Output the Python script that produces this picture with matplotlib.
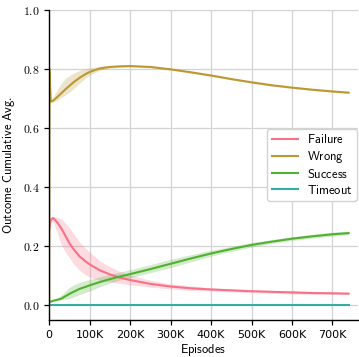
import numpy as np
import matplotlib
matplotlib.use("Agg")
import matplotlib.pyplot as plt
from matplotlib.ticker import FuncFormatter

plt.rcParams["mathtext.fontset"] = "cm"

# ── data (episodes in thousands) ─────────────────────────────────────────────
episodes = [0, 0.5, 4, 10, 20, 30, 40, 50, 60, 75, 90, 100, 125, 150, 175, 200,
            250, 300, 350, 400, 450, 500, 550, 600, 650, 700, 740]

failure = [0.25, 0.26, 0.29, 0.295, 0.28, 0.26, 0.235, 0.21, 0.19, 0.165, 0.148,
           0.138, 0.118, 0.104, 0.093, 0.085, 0.072, 0.063, 0.057, 0.053, 0.05,
           0.047, 0.045, 0.043, 0.041, 0.04, 0.039]
failure_lo = [0.25, 0.26, 0.285, 0.28, 0.245, 0.205, 0.18, 0.16, 0.14, 0.118, 0.102,
              0.095, 0.084, 0.079, 0.073, 0.069, 0.061, 0.055, 0.05, 0.047, 0.045,
              0.042, 0.04, 0.038, 0.037, 0.036, 0.035]
failure_hi = [0.25, 0.26, 0.295, 0.3, 0.297, 0.292, 0.278, 0.262, 0.243, 0.213, 0.192,
              0.18, 0.15, 0.13, 0.114, 0.102, 0.084, 0.072, 0.065, 0.059, 0.055,
              0.052, 0.05, 0.048, 0.046, 0.044, 0.043]

wrong = [0.0, 0.8, 0.69, 0.693, 0.705, 0.718, 0.731, 0.743, 0.755, 0.77, 0.783,
         0.79, 0.802, 0.807, 0.809, 0.81, 0.807, 0.799, 0.789, 0.778, 0.766,
         0.755, 0.745, 0.737, 0.73, 0.724, 0.72]
wrong_lo = [0.0, 0.8, 0.685, 0.688, 0.695, 0.703, 0.712, 0.722, 0.733, 0.752, 0.77,
            0.779, 0.796, 0.803, 0.806, 0.807, 0.804, 0.796, 0.786, 0.775, 0.763,
            0.752, 0.742, 0.734, 0.727, 0.721, 0.717]
wrong_hi = [0.0, 0.8, 0.695, 0.705, 0.73, 0.752, 0.768, 0.778, 0.786, 0.795, 0.801,
            0.804, 0.809, 0.812, 0.813, 0.813, 0.81, 0.802, 0.792, 0.781, 0.769,
            0.758, 0.748, 0.74, 0.733, 0.727, 0.723]

success = [0.01, 0.01, 0.012, 0.015, 0.018, 0.022, 0.03, 0.038, 0.045, 0.055, 0.062,
           0.067, 0.078, 0.088, 0.097, 0.105, 0.122, 0.14, 0.158, 0.175, 0.19,
           0.204, 0.215, 0.225, 0.233, 0.24, 0.244]
success_lo = [0.01, 0.01, 0.011, 0.013, 0.016, 0.018, 0.02, 0.022, 0.027, 0.036, 0.043,
              0.048, 0.062, 0.075, 0.085, 0.093, 0.11, 0.127, 0.147, 0.166, 0.182,
              0.197, 0.209, 0.219, 0.227, 0.234, 0.238]
success_hi = [0.01, 0.01, 0.013, 0.017, 0.024, 0.034, 0.047, 0.06, 0.068, 0.077, 0.083,
              0.087, 0.096, 0.104, 0.112, 0.12, 0.137, 0.155, 0.171, 0.186, 0.199,
              0.212, 0.222, 0.232, 0.24, 0.247, 0.251]

timeout = [0.0] * len(episodes)

series = [
    ("Failure", failure, failure_lo, failure_hi, "#f77189"),
    ("Wrong", wrong, wrong_lo, wrong_hi, "#bb9832"),
    ("Success", success, success_lo, success_hi, "#50b131"),
    ("Timeout", timeout, timeout, timeout, "#36ada4"),
]

# ── figure ───────────────────────────────────────────────────────────────────
fig = plt.figure(figsize=(3.59, 3.57), dpi=100)
ax = fig.add_axes([0.137, 0.104, 0.86, 0.868])

x = np.array(episodes) * 1000
for name, mean, lo, hi, col in series:
    ax.fill_between(x, lo, hi, color=col, alpha=0.25, lw=0)
    ax.plot(x, mean, color=col, lw=1.5, label=r"$\mathsf{%s}$" % name)

ax.set_xlim(0, 763000)
ax.set_ylim(-0.05, 1.0)
ax.set_xticks([0, 100000, 200000, 300000, 400000, 500000, 600000, 700000])
ax.xaxis.set_major_formatter(FuncFormatter(
    lambda v, p: "0" if v == 0 else f"{int(v / 1000)}K"))
ax.set_yticks([0.0, 0.2, 0.4, 0.6, 0.8, 1.0])
ax.yaxis.set_major_formatter(FuncFormatter(lambda v, p: f"${v:.1f}$"))

ax.grid(True, color="#d3d3d3", lw=0.9)
ax.set_axisbelow(True)
for s in ["top", "right"]:
    ax.spines[s].set_visible(False)
for s in ["left", "bottom"]:
    ax.spines[s].set_color("black")
    ax.spines[s].set_linewidth(1.0)
ax.tick_params(labelsize=8, length=3.5, width=0.9)
ax.tick_params(axis="y", labelsize=8.5)

ax.set_xlabel(r"$\mathsf{Episodes}$", fontsize=9, labelpad=2)
ax.set_ylabel(r"$\mathsf{Outcome\ Cumulative\ Avg.}$", fontsize=9, labelpad=4)

ax.legend(loc="center right", fontsize=9, framealpha=1, edgecolor="#d3d3d3",
          handlelength=2.1, handletextpad=0.7, borderaxespad=0.1,
          labelspacing=0.22, borderpad=0.35)

plt.savefig("out.png", dpi=100)
